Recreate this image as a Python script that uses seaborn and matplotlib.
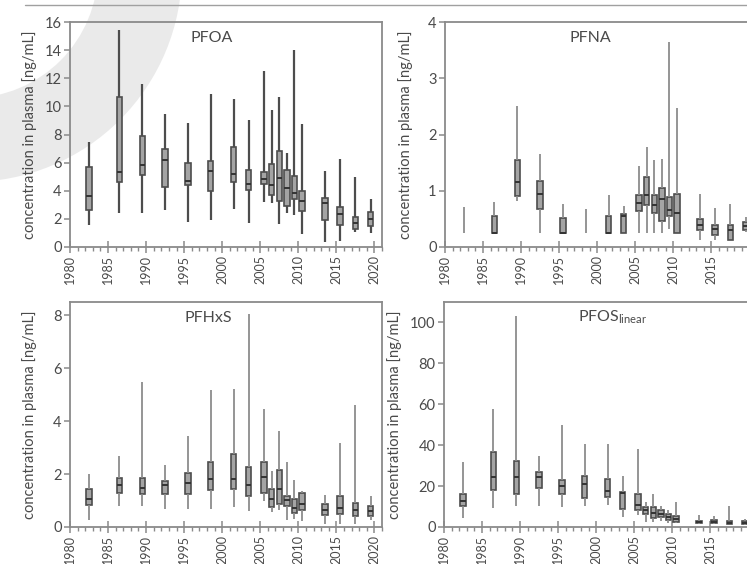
import numpy as np
import pandas as pd
import matplotlib
matplotlib.use("Agg")
import matplotlib.pyplot as plt
from matplotlib.ticker import MultipleLocator
from matplotlib.patches import Wedge
from matplotlib.lines import Line2D
import seaborn as sns

# sampling years of the specimen bank
years = [1982, 1986, 1989, 1992, 1995, 1998, 2001, 2003, 2005, 2006,
         2007, 2008, 2009, 2010, 2013, 2015, 2017, 2019]

# five-number summaries per year (ng/mL): minimum, Q1, median, Q3, maximum
pfoa_min = [1.6, 2.4, 2.4, 2.6, 1.8, 1.9, 2.7, 1.7, 3.2, 3.1, 1.65, 2.4, 2.3, 0.9, 0.35, 0.45, 1.1, 1.0]
pfoa_q1 = [2.6, 4.6, 5.1, 4.3, 4.4, 4.0, 4.6, 4.05, 4.5, 3.7, 3.3, 2.9, 3.4, 2.55, 1.95, 1.6, 1.3, 1.5]
pfoa_med = [3.6, 5.3, 5.85, 6.2, 4.7, 5.4, 5.2, 4.5, 4.85, 4.4, 4.9, 4.2, 3.85, 3.3, 3.1, 2.35, 1.7, 2.0]
pfoa_q3 = [5.7, 10.7, 7.9, 7.0, 6.0, 6.1, 7.1, 5.45, 5.3, 5.9, 6.8, 5.45, 5.05, 4.0, 3.45, 2.85, 2.15, 2.5]
pfoa_max = [7.45, 15.4, 11.6, 9.45, 8.8, 10.85, 10.55, 9.05, 12.55, 9.75, 10.65, 6.7, 14.0, 8.75, 5.4, 6.25, 5.0, 3.4]

pfna_min = [0.25, 0.25, 0.82, 0.25, 0.25, 0.25, 0.25, 0.25, 0.25, 0.25, 0.25, 0.25, 0.32, 0.25, 0.12, 0.13, 0.12, 0.27]
pfna_q1 = [0.25, 0.25, 0.91, 0.68, 0.25, 0.25, 0.25, 0.25, 0.64, 0.74, 0.6, 0.47, 0.56, 0.25, 0.3, 0.22, 0.12, 0.31]
pfna_med = [0.25, 0.25, 1.16, 0.95, 0.25, 0.25, 0.25, 0.55, 0.78, 0.93, 0.75, 0.86, 0.65, 0.6, 0.39, 0.32, 0.3, 0.38]
pfna_q3 = [0.25, 0.55, 1.55, 1.18, 0.52, 0.25, 0.55, 0.58, 0.92, 1.25, 0.93, 1.05, 0.89, 0.95, 0.49, 0.39, 0.39, 0.45]
pfna_max = [0.71, 0.8, 2.5, 1.65, 0.77, 0.67, 0.93, 0.73, 1.44, 1.78, 1.54, 1.56, 3.65, 2.47, 0.95, 0.7, 0.76, 0.53]

pfhxs_min = [0.25, 0.8, 0.8, 0.67, 0.68, 0.68, 0.76, 0.6, 1.0, 0.57, 0.66, 0.25, 0.29, 0.24, 0.13, 0.13, 0.13, 0.25]
pfhxs_q1 = [0.85, 1.3, 1.25, 1.24, 1.24, 1.39, 1.42, 1.16, 1.29, 0.76, 0.88, 0.8, 0.52, 0.66, 0.44, 0.48, 0.4, 0.42]
pfhxs_med = [1.07, 1.6, 1.47, 1.6, 1.65, 1.82, 1.83, 1.58, 1.88, 1.07, 1.45, 1.01, 0.73, 0.86, 0.63, 0.73, 0.64, 0.6]
pfhxs_q3 = [1.45, 1.86, 1.87, 1.74, 2.05, 2.47, 2.74, 2.25, 2.47, 1.42, 2.15, 1.17, 1.05, 1.29, 0.88, 1.16, 0.91, 0.78]
pfhxs_max = [2.0, 2.69, 5.47, 2.34, 3.45, 5.18, 5.22, 8.05, 4.46, 2.12, 3.63, 2.45, 1.77, 1.36, 1.2, 3.18, 4.61, 1.17]

pfos_min = [4.6, 9.5, 10.3, 10.3, 10.0, 10.1, 10.6, 4.9, 5.7, 2.5, 2.5, 2.9, 2.2, 1.8, 1.5, 1.4, 1.3, 1.1]
pfos_q1 = [10.2, 18.0, 15.9, 19.0, 16.0, 14.4, 14.5, 8.7, 8.2, 6.2, 4.6, 4.8, 3.6, 2.5, 1.8, 1.9, 1.6, 1.4]
pfos_med = [12.9, 24.5, 24.3, 24.5, 20.0, 20.8, 17.5, 16.7, 10.6, 8.2, 7.0, 6.3, 5.0, 4.0, 2.4, 2.5, 2.1, 2.0]
pfos_q3 = [16.3, 36.5, 32.2, 27.0, 23.2, 24.8, 23.4, 17.2, 16.0, 9.6, 10.0, 8.2, 6.2, 5.2, 3.0, 3.4, 2.8, 2.8]
pfos_max = [32.0, 57.5, 103.0, 34.6, 49.8, 40.4, 40.4, 24.8, 38.0, 12.3, 16.2, 10.1, 8.3, 12.3, 5.8, 5.4, 10.3, 3.9]

x_ticks = [1980, 1985, 1990, 1995, 2000, 2005, 2010, 2015, 2020]
ylabel = "concentration in plasma [ng/mL]"

sns.set_style("ticks")
plt.rcParams["font.family"] = ["Lato", "DejaVu Sans"]
plt.rcParams["mathtext.default"] = "regular"

TXT = "#4a4a4a"
SPINE = "#8a8a8a"
BOX_FILL = "#a4a4a4"
BOX_EDGE = "#4d4d4d"


def long_table(mins, q1s, meds, q3s, maxs):
    """Five rows per sampling year; plotted at mid-year."""
    rows = []
    for y, a, b, c, d, e in zip(years, mins, q1s, meds, q3s, maxs):
        for v in (a, b, c, d, e):
            rows.append({"t": y + 0.5, "conc": v})
    return pd.DataFrame(rows)


def hide_flat_boxes(ax):
    """Years where Q1 = Q3 (all at the quantification limit) show only the range line."""
    flat = []
    for patch in ax.patches:
        ext = patch.get_path().get_extents()
        if ext.height < 1e-9:
            patch.set_visible(False)
            flat.append((ext.x0, ext.x1, ext.y0))
    for line in ax.lines:
        xd, yd = np.asarray(line.get_xdata(), float), np.asarray(line.get_ydata(), float)
        if len(xd) != 2 or yd[0] != yd[1]:
            continue
        for x0, x1, y in flat:
            if abs(yd[0] - y) < 1e-9 and min(xd) >= x0 - 1e-6 and max(xd) <= x1 + 1e-6:
                line.set_visible(False)


W, H = 747, 564
fig = plt.figure(figsize=(W / 100, H / 100), dpi=100)

# background layer in pixel units (page rule and faint logo ring)
bg = fig.add_axes([0, 0, 1, 1], zorder=-10)
bg.set_xlim(0, W)
bg.set_ylim(H, 0)
bg.axis("off")
bg.add_patch(Wedge((-30, -30), 212, 0, 90, width=84, facecolor="#eaeaea", edgecolor="none"))
bg.add_line(Line2D([25, W], [4.5, 4.5], color="#a0a0a0", lw=1.0))


def px_axes(left, top, right, bottom):
    return fig.add_axes([left / W, 1 - bottom / H, (right - left) / W, (bottom - top) / H])


panels = [
    dict(box=(70, 22, 382, 247), data=(pfoa_min, pfoa_q1, pfoa_med, pfoa_q3, pfoa_max),
         ylim=(0, 16), ystep=2, title="PFOA", tx=0.455, wcol="#4d4d4d", wlw=1.6, ylx=-0.106, last=True),
    dict(box=(445, 22, 757, 247), data=(pfna_min, pfna_q1, pfna_med, pfna_q3, pfna_max),
         ylim=(0, 4), ystep=1, title="PFNA", tx=0.465, wcol="#8c8c8c", wlw=1.3, ylx=-0.103, last=False),
    dict(box=(70, 302, 382, 527), data=(pfhxs_min, pfhxs_q1, pfhxs_med, pfhxs_q3, pfhxs_max),
         ylim=(0, 8.5), ystep=2, title="PFHxS", tx=0.442, wcol="#8c8c8c", wlw=1.3, ylx=-0.106, last=True),
    dict(box=(444, 302, 756, 527), data=(pfos_min, pfos_q1, pfos_med, pfos_q3, pfos_max),
         ylim=(0, 110), ystep=20, title=r"PFOS$_{linear}$", tx=0.54, wcol="#8c8c8c", wlw=1.3, ylx=-0.135, last=False),
]

for p in panels:
    ax = px_axes(*p["box"])
    ax.set_facecolor("none")
    df = long_table(*p["data"])
    sns.boxplot(
        data=df, x="t", y="conc", native_scale=True, whis=(0, 100), width=0.7,
        color=BOX_FILL, saturation=1, linecolor=BOX_EDGE, linewidth=1.2,
        showcaps=False, fliersize=0,
        whiskerprops=dict(color=p["wcol"], linewidth=p["wlw"]),
        medianprops=dict(color="#333333", linewidth=1.4),
        ax=ax,
    )
    hide_flat_boxes(ax)
    ax.set_xlim(1980, 2021)
    ax.set_ylim(*p["ylim"])
    ax.set_xticks(x_ticks)
    labels = [str(t) for t in x_ticks]
    if not p["last"]:
        labels[-1] = ""  # the 2020 label falls beyond the page edge
    ax.set_xticklabels(labels, rotation=90, fontsize=9, color=TXT)
    ax.xaxis.set_minor_locator(MultipleLocator(1))
    ax.yaxis.set_major_locator(MultipleLocator(p["ystep"]))
    ax.tick_params(axis="y", labelsize=10.5, labelcolor=TXT, color=SPINE, length=4, width=1.1, pad=2)
    ax.tick_params(axis="x", which="major", direction="inout", length=8, width=1.1, color=SPINE, pad=2)
    ax.tick_params(axis="x", which="minor", direction="out", length=3, width=1.0, color=SPINE)
    for s in ax.spines.values():
        s.set_visible(True)
        s.set_color(SPINE)
        s.set_linewidth(1.3)
    ax.set_xlabel("")
    ax.set_ylabel(ylabel, fontsize=10.5, color=TXT)
    ax.yaxis.set_label_coords(p["ylx"], 0.5)
    ax.text(p["tx"], 0.93, p["title"], transform=ax.transAxes, ha="center", va="center",
            fontsize=11.5, color=TXT)

fig.savefig("out.png", dpi=100)
